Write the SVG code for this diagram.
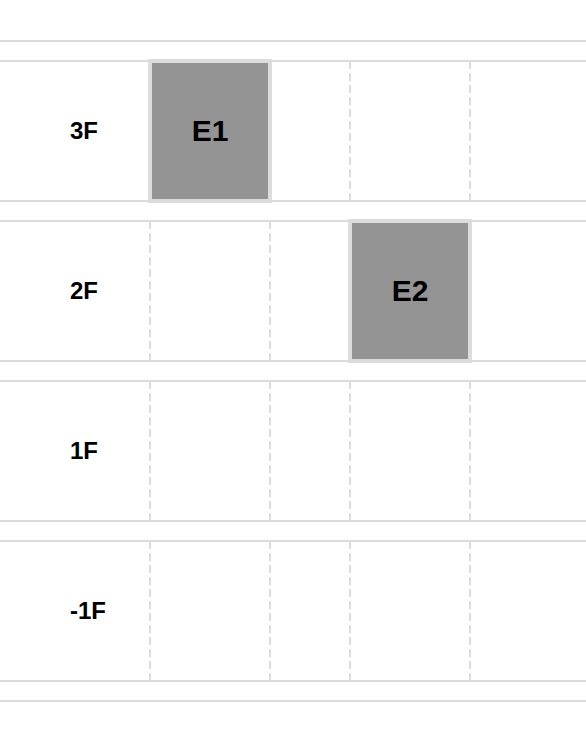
<svg xmlns="http://www.w3.org/2000/svg" width="586" height="746" viewBox="0 0 586 746">
<style>
.h{stroke:#dcdcdc;stroke-width:2}
.v{stroke:#dcdcdc;stroke-width:2;stroke-dasharray:8,4}
.lbl{font-family:"Liberation Sans",Arial,sans-serif;font-weight:bold;font-size:24px;fill:#000}
.box{fill:#949494;stroke:#dcdcdc;stroke-width:4}
.bt{font-family:"Liberation Sans",Arial,sans-serif;font-weight:bold;font-size:30px;fill:#000;text-anchor:middle}
</style>
<rect width="586" height="746" fill="#fff"/>
<g id="grid">
<line class="h" x1="0" y1="41" x2="586" y2="41"/>
<line class="h" x1="0" y1="61" x2="586" y2="61"/>
<line class="h" x1="0" y1="201" x2="586" y2="201"/>
<line class="h" x1="0" y1="221" x2="586" y2="221"/>
<line class="h" x1="0" y1="361" x2="586" y2="361"/>
<line class="h" x1="0" y1="381" x2="586" y2="381"/>
<line class="h" x1="0" y1="521" x2="586" y2="521"/>
<line class="h" x1="0" y1="541" x2="586" y2="541"/>
<line class="h" x1="0" y1="681" x2="586" y2="681"/>
<line class="h" x1="0" y1="701" x2="586" y2="701"/>
<line class="v" x1="350" y1="61" x2="350" y2="201"/>
<line class="v" x1="470" y1="61" x2="470" y2="201"/>
<line class="v" x1="150" y1="221" x2="150" y2="361"/>
<line class="v" x1="270" y1="221" x2="270" y2="361"/>
<line class="v" x1="150" y1="381" x2="150" y2="521"/>
<line class="v" x1="270" y1="381" x2="270" y2="521"/>
<line class="v" x1="350" y1="381" x2="350" y2="521"/>
<line class="v" x1="470" y1="381" x2="470" y2="521"/>
<line class="v" x1="150" y1="541" x2="150" y2="681"/>
<line class="v" x1="270" y1="541" x2="270" y2="681"/>
<line class="v" x1="350" y1="541" x2="350" y2="681"/>
<line class="v" x1="470" y1="541" x2="470" y2="681"/>
</g>
<g id="labels">
<text class="lbl" x="70" y="139">3F</text>
<text class="lbl" x="70" y="299">2F</text>
<text class="lbl" x="70" y="459">1F</text>
<text class="lbl" x="70" y="619">-1F</text>
</g>
<g id="E1">
<rect class="box" x="150" y="61" width="120" height="140"/>
<text class="bt" x="210" y="141">E1</text>
</g>
<g id="E2">
<rect class="box" x="350" y="221" width="120" height="140"/>
<text class="bt" x="410" y="301">E2</text>
</g>
</svg>
